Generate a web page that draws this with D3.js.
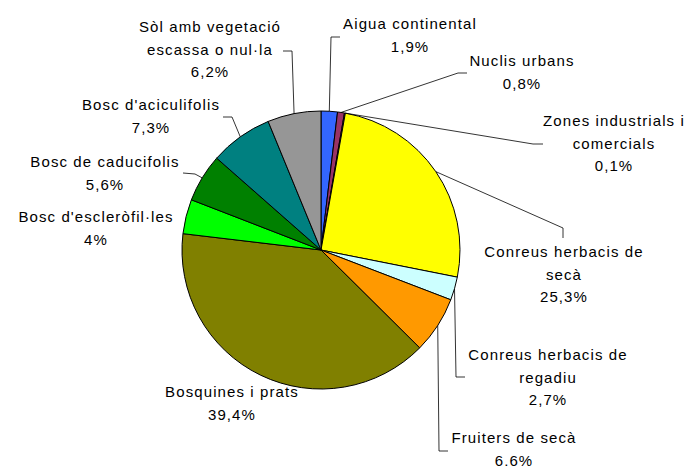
<!DOCTYPE html>
<html>
<head>
<meta charset="utf-8">
<script src="https://cdn.jsdelivr.net/npm/d3@7"></script>
<style>
  body { margin: 0; background: #fff; }
  text { font-family: "Liberation Sans", Arial, sans-serif; font-size: 15px; letter-spacing: 1.1px; fill: #000; }
</style>
</head>
<body>
<script>
// usos del sol, % de superficie
var categories = [
  "Aigua continental",
  "Nuclis urbans",
  "Zones industrials i|comercials",
  "Conreus herbacis de|secà",
  "Conreus herbacis de|regadiu",
  "Fruiters de secà",
  "Bosquines i prats",
  "Bosc d'escleròfil·les",
  "Bosc de caducifolis",
  "Bosc d'aciculifolis",
  "Sòl amb vegetació|escassa o nul·la"
]
var values = [1.9, 0.8, 0.1, 25.3, 2.7, 6.6, 39.4, 4, 5.6, 7.3, 6.2]
var colors = ["#3366ff", "#993366", "#ff00ff", "#ffff00", "#ccffff", "#ff9900",
              "#808000", "#00ff00", "#008000", "#008080", "#969696"]

// label anchors (centre x, first baseline) and leader elbows
var labelPos = [[410, 29], [522, 66], [614, 126], [564, 257], [548, 360], [514, 443],
                [232, 397], [96, 222], [105, 167], [151, 110], [210, 32]]
var leaders = [
  [[331, 37], [340, 37]],
  [[458, 73], [467, 73]],
  [[533, 144], [543, 144]],
  [[563, 228], [563, 238]],
  [[456, 377], [465, 377]],
  [[439, 451], [448, 451]],
  null,
  null,
  [[195, 174], [183, 173]],
  [[232, 117], [223, 117]],
  [[292, 51], [283, 51]]
]

var width = 687, height = 466
var cx = 321, cy = 250, radius = 139
var lineH = 22.5

var svg = d3.select('body').append('svg')
    .attr('width', width)
    .attr('height', height)

var data = values.map(function (v, i) { return { name: categories[i], value: v, i: i } })

var pie = d3.pie()
    .sort(null)
    .value(function (d) { return d.value })

var arc = d3.arc()
    .innerRadius(0)
    .outerRadius(radius)

var arcs = pie(data)

var g = svg.append('g')
    .attr('transform', 'translate(' + cx + ',' + cy + ')')

g.selectAll('path')
    .data(arcs)
    .enter().append('path')
    .attr('d', arc)
    .attr('fill', function (d) { return colors[d.data.i] })
    .attr('stroke', '#000')
    .attr('stroke-width', 1)
    .attr('stroke-linejoin', 'round')

// leader lines from the slice edge to the label
svg.append('g')
    .selectAll('polyline')
    .data(arcs.filter(function (d) { return leaders[d.data.i] }))
    .enter().append('polyline')
    .attr('fill', 'none')
    .attr('stroke', '#000')
    .attr('stroke-width', 0.8)
    .attr('points', function (d) {
        var a = (d.startAngle + d.endAngle) / 2
        var p0 = [cx + radius * Math.sin(a), cy - radius * Math.cos(a)]
        return [p0].concat(leaders[d.data.i]).map(function (p) { return p.join(',') }).join(' ')
    })

var labels = svg.append('g')
    .selectAll('text')
    .data(data)
    .enter().append('text')
    .attr('text-anchor', 'middle')
    .attr('x', function (d) { return labelPos[d.i][0] })
    .attr('y', function (d) { return labelPos[d.i][1] })

labels.each(function (d) {
    var lines = d.name.split('|')
    lines.push(String(d.value).replace('.', ',') + '%')
    var t = d3.select(this)
    lines.forEach(function (l, k) {
        t.append('tspan')
            .attr('x', labelPos[d.i][0])
            .attr('dy', k === 0 ? 0 : lineH)
            .text(l)
    })
})
</script>
</body>
</html>
